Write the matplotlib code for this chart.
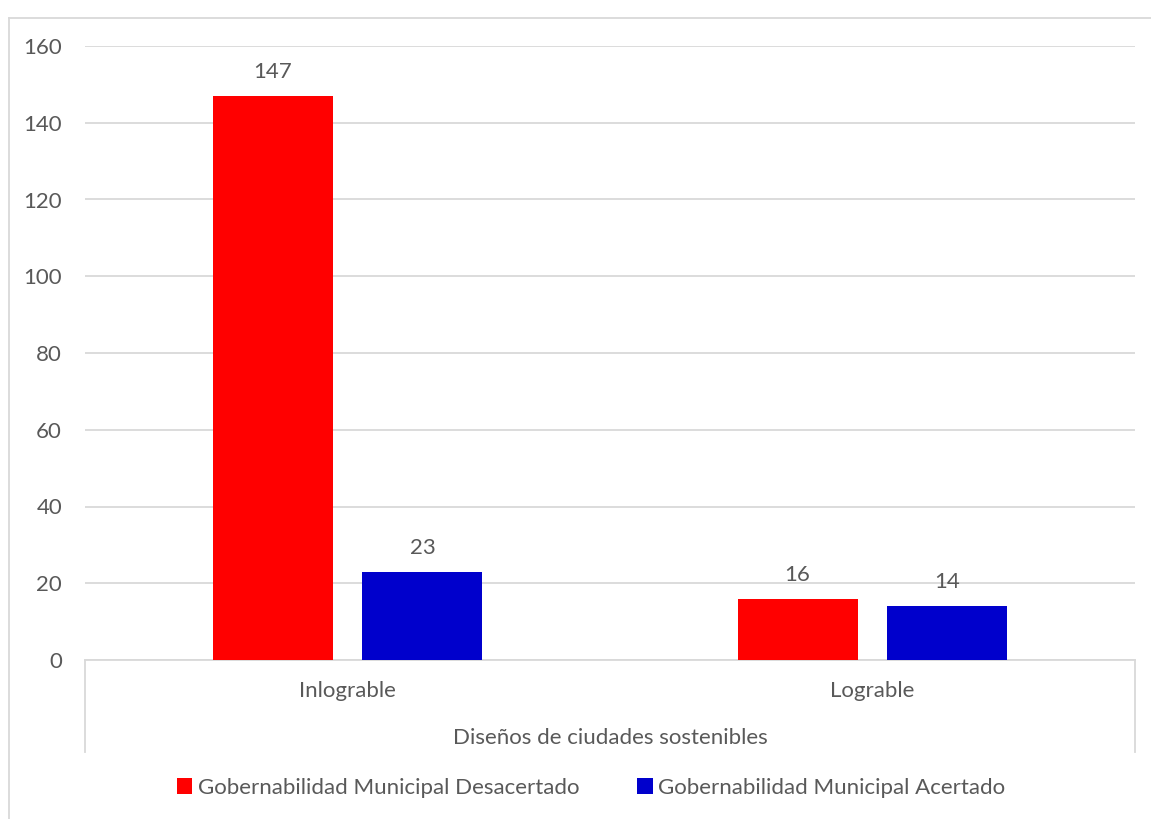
import matplotlib
matplotlib.use("Agg")
import matplotlib.pyplot as plt
import numpy as np

plt.rcParams["font.family"] = ["Lato", "DejaVu Sans"]

categories = ["Inlograble", "Lograble"]
desacertado = [147, 16]
acertado = [23, 14]
series_names = ["Gobernabilidad Municipal Desacertado", "Gobernabilidad Municipal Acertado"]
axis_title = "Diseños de ciudades sostenibles"
yticks = [0, 20, 40, 60, 80, 100, 120, 140, 160]

TEXT = "#595959"
GRID = "#D9D9D9"
FS = 16
W, H = 1151, 819

fig = plt.figure(figsize=(W / 100, H / 100), dpi=100)
ax = fig.add_axes([85 / W, 1 - 660 / H, 1050 / W, 614 / H])

x = np.arange(len(categories))
width = 0.2286
off = 0.1428
b1 = ax.bar(x - off, desacertado, width, color="#FF0000", label=series_names[0], zorder=3)
b2 = ax.bar(x + off, acertado, width, color="#0000CC", label=series_names[1], zorder=3)

for bars in (b1, b2):
    for rect in bars:
        ax.annotate(f"{rect.get_height():g}", (rect.get_x() + rect.get_width() / 2, rect.get_height()),
                    xytext=(0, 10), textcoords="offset points", ha="center", va="bottom",
                    fontsize=FS, color=TEXT)

ax.set_xlim(-0.5, 1.5)
ax.set_ylim(0, 160)
ax.set_yticks(yticks)
ax.tick_params(axis="y", length=0, labelsize=FS, labelcolor=TEXT, pad=16.5)
ax.set_xticks([])
ax.grid(axis="y", color=GRID, linewidth=1.3, zorder=0)
for s in ["top", "right", "left"]:
    ax.spines[s].set_visible(False)
ax.spines["bottom"].set_color(GRID)
ax.spines["bottom"].set_linewidth(1.3)

# multi-level category axis
for px in (85, 1135):
    fig.add_artist(plt.Line2D([px / W, px / W], [1 - 660 / H, 1 - 752 / H], color=GRID, linewidth=1.3))
for i, c in enumerate(categories):
    ax.text(i, -31 / 614 * 160, c, ha="center", va="center", fontsize=FS, color=TEXT)
fig.text(610 / W, 1 - 738 / H, axis_title, ha="center", va="center", fontsize=FS, color=TEXT)

# outer chart border (cropped)
fig.add_artist(plt.Line2D([8.5 / W, 1.0], [1 - 17.5 / H, 1 - 17.5 / H], color=GRID, linewidth=1.3))
fig.add_artist(plt.Line2D([8.5 / W, 8.5 / W], [0, 1 - 17.5 / H], color=GRID, linewidth=1.3))

fig.legend(loc="center", bbox_to_anchor=(591 / W, 1 - 788 / H), ncol=2, frameon=False,
           fontsize=FS, labelcolor=TEXT, handlelength=0.7, handleheight=0.7,
           handletextpad=0.25, columnspacing=2.6)

fig.savefig("out.png", dpi=100)
